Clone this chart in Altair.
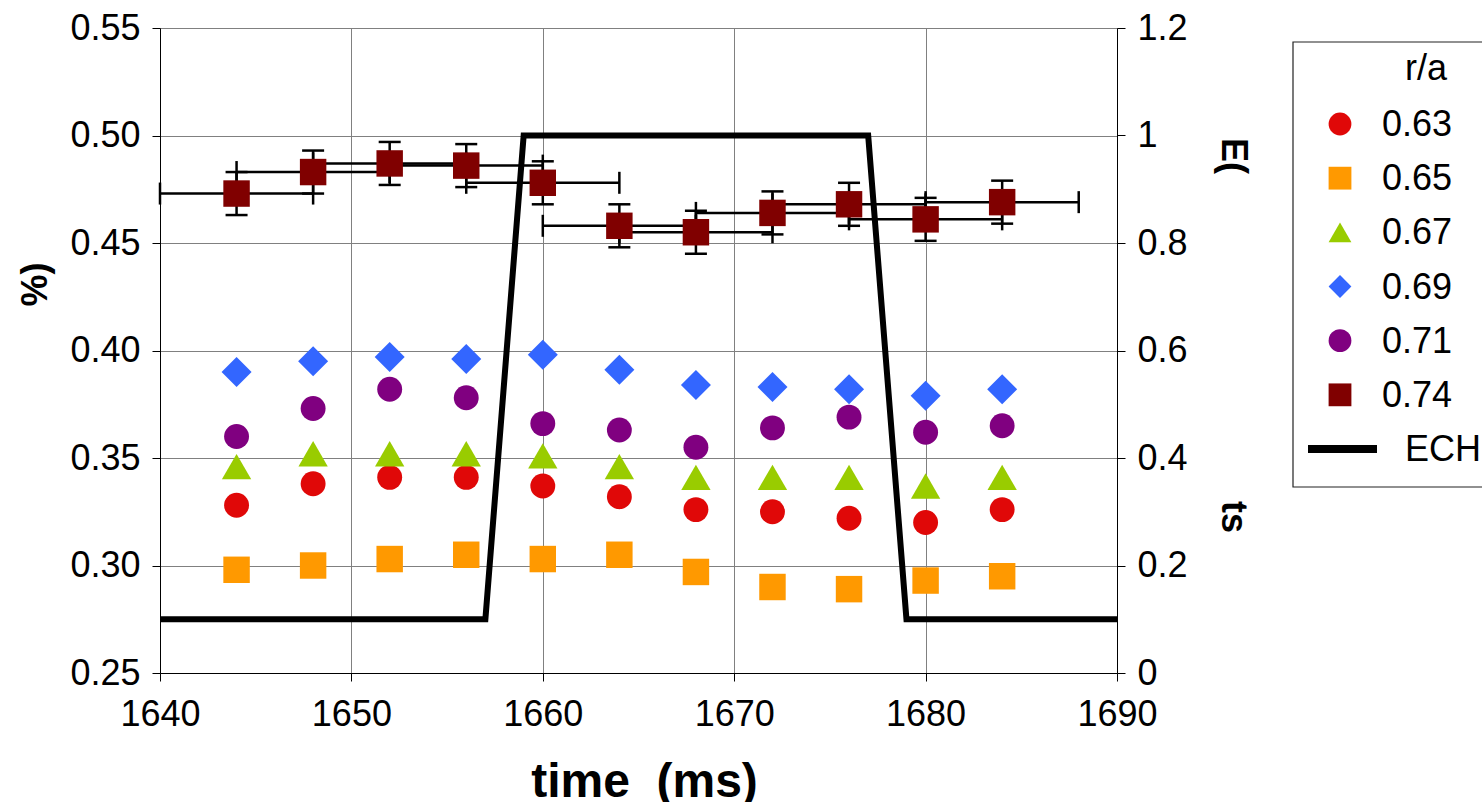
import altair as alt
import pandas as pd

# ---------------- data ----------------
times = [1644, 1648, 1652, 1656, 1660, 1664, 1668, 1672, 1676, 1680, 1684]
series_names = ["0.63", "0.65", "0.67", "0.69", "0.71", "0.74"]
v063 = [0.328, 0.338, 0.341, 0.341, 0.337, 0.332, 0.326, 0.325, 0.322, 0.320, 0.326]
v065 = [0.298, 0.300, 0.303, 0.305, 0.303, 0.305, 0.297, 0.290, 0.289, 0.293, 0.295]
v067 = [0.346, 0.352, 0.352, 0.352, 0.351, 0.346, 0.341, 0.341, 0.341, 0.337, 0.341]
v069 = [0.390, 0.395, 0.397, 0.396, 0.398, 0.391, 0.384, 0.383, 0.382, 0.379, 0.382]
v071 = [0.360, 0.373, 0.382, 0.378, 0.366, 0.363, 0.355, 0.364, 0.369, 0.362, 0.365]
v074 = [0.473, 0.483, 0.487, 0.486, 0.478, 0.458, 0.455, 0.464, 0.468, 0.461, 0.469]
x_err_074 = [4, 4, 4, 4, 4, 4, 4, 4, 4, 4, 4]
y_err_074 = [0.01, 0.01, 0.01, 0.01, 0.01, 0.01, 0.01, 0.01, 0.01, 0.01, 0.01]

ech_time = [1640, 1657, 1659, 1677, 1679, 1690]
ech_value = [0.1, 0.1, 1.0, 1.0, 0.1, 0.1]

x_ticks = [1640, 1650, 1660, 1670, 1680, 1690]
left_ticks = [0.25, 0.30, 0.35, 0.40, 0.45, 0.50, 0.55]
right_ticks = [0, 0.2, 0.4, 0.6, 0.8, 1, 1.2]

legend_title = "r/a"
ech_label = "ECH"
x_title = "time\u00a0 (ms)"
left_title = "%)"
right_title_top = "E("
right_title_bottom = "ts"

# ---------------- styles ----------------
colors = ["#E00808", "#FF9900", "#99CC00", "#3366FF", "#800080", "#800000"]
shapes = ["circle", "square", "triangle-up", "diamond", "circle", "square"]
sizes = [620, 700, 860, 900, 620, 700]
FONT = "Liberation Sans"

W, H = 957, 645
PAD_L, PAD_T = 160, 28

all_vals = [v063, v065, v067, v069, v071, v074]
pts = pd.DataFrame(
    [{"series": s, "time": t, "value": v}
     for s, vals in zip(series_names, all_vals) for t, v in zip(times, vals)]
)

eb = pd.DataFrame({"time": times, "value": v074, "xerr": x_err_074, "yerr": y_err_074})
eb["x_lo"] = eb["time"] - eb["xerr"]
eb["x_hi"] = eb["time"] + eb["xerr"]
eb["y_lo"] = eb["value"] - eb["yerr"]
eb["y_hi"] = eb["value"] + eb["yerr"]

ech = pd.DataFrame({"time": ech_time, "ech": ech_value})

x_scale = alt.Scale(domain=[1640, 1690], nice=False, zero=False)
yl_scale = alt.Scale(domain=[0.25, 0.55], nice=False, zero=False)
yr_scale = alt.Scale(domain=[0, 1.2], nice=False, zero=True)

x_axis = alt.Axis(
    values=x_ticks, format="d", labelFont=FONT, labelFontSize=36, labelColor="black",
    labelPadding=16, labelFlush=False, labelOverlap=False,
    tickSize=8, tickColor="black", tickWidth=1, domainColor="black", domainWidth=1,
    grid=True, gridColor="#808080", gridWidth=1,
    title=x_title, titleFont=FONT, titleFontSize=48, titleFontWeight="bold",
    titleColor="black", titleX=484, titleY=123, titleAlign="center",
    titleBaseline="alphabetic",
)
yl_axis = alt.Axis(
    values=left_ticks, format=".2f", labelFont=FONT, labelFontSize=36, labelColor="black",
    labelPadding=12, labelFlush=False, labelOverlap=False,
    tickSize=8, tickColor="black", tickWidth=1, domainColor="black", domainWidth=1,
    grid=True, gridColor="#808080", gridWidth=1,
    title=left_title, titleFont=FONT, titleFontSize=36, titleFontWeight="bold",
    titleColor="black", titleAngle=270, titleX=-125, titleY=256, titleAlign="center",
    titleBaseline="middle",
)
yr_axis = alt.Axis(
    orient="right", values=right_ticks, format="~g", labelFont=FONT, labelFontSize=36,
    labelColor="black", labelPadding=12, labelFlush=False, labelOverlap=False,
    tickSize=8, tickColor="black", tickWidth=1, domainColor="black", domainWidth=1,
    grid=False, title="",
)

X = lambda f: alt.X(f, type="quantitative", scale=x_scale, axis=x_axis)
YL = lambda f: alt.Y(f, type="quantitative", scale=yl_scale, axis=yl_axis)

# ---------------- error bars (0.74) ----------------
ebase = alt.Chart(eb)
v_rule = ebase.mark_rule(color="black", strokeWidth=2.5).encode(
    x=X("time"), y=YL("y_lo"), y2="y_hi")
h_rule = ebase.mark_rule(color="black", strokeWidth=2.5).encode(
    x=X("x_lo"), x2="x_hi", y=YL("value"))
cap_lo = ebase.mark_tick(color="black", orient="horizontal", size=22, thickness=2.5,
                         opacity=1).encode(x=X("time"), y=YL("y_lo"))
cap_hi = ebase.mark_tick(color="black", orient="horizontal", size=22, thickness=2.5,
                         opacity=1).encode(x=X("time"), y=YL("y_hi"))
cap_l = ebase.mark_tick(color="black", orient="vertical", size=22, thickness=2.5,
                        opacity=1).encode(x=X("x_lo"), y=YL("value"))
cap_r = ebase.mark_tick(color="black", orient="vertical", size=22, thickness=2.5,
                        opacity=1).encode(x=X("x_hi"), y=YL("value"))

point_layers = []
for s, c, sh, sz in zip(series_names, colors, shapes, sizes):
    point_layers.append(
        alt.Chart(pts).transform_filter(alt.datum.series == s)
        .mark_point(filled=True, shape=sh, size=sz, color=c, opacity=1, strokeWidth=0)
        .encode(x=X("time"), y=YL("value"))
    )

left_group = alt.layer(v_rule, h_rule, cap_lo, cap_hi, cap_l, cap_r, *point_layers)

ech_line = alt.Chart(ech).mark_line(color="black", strokeWidth=6, strokeJoin="miter",
                                    strokeCap="butt").encode(
    x=X("time"),
    y=alt.Y("ech:Q", scale=yr_scale, axis=yr_axis),
)

# ---------------- legend ----------------
leg_df = pd.DataFrame({"series": series_names, "row": list(range(len(series_names)))})
ech_leg_df = pd.DataFrame({"label": [ech_label], "row": [len(series_names)]})
leg_y = alt.Scale(domain=[0, 6], range=[124 - PAD_T, 449 - PAD_T], nice=False, zero=False)

box = alt.Chart(pd.DataFrame({"k": [0]})).mark_rect(
    fill="white", stroke="#222222", strokeWidth=1.2).encode(
    x=alt.value(1293 - PAD_L), x2=alt.value(1500 - PAD_L),
    y=alt.value(42 - PAD_T), y2=alt.value(487 - PAD_T))

leg_sym = alt.Chart(leg_df).mark_point(filled=True, size=520, opacity=1, strokeWidth=0).encode(
    x=alt.value(1340 - PAD_L),
    y=alt.Y("row:Q", scale=leg_y, axis=None),
    color=alt.Color("series:N", scale=alt.Scale(domain=series_names, range=colors), legend=None),
    shape=alt.Shape("series:N", scale=alt.Scale(domain=series_names, range=shapes), legend=None),
)
leg_lbl = alt.Chart(leg_df).mark_text(
    font=FONT, fontSize=36, color="black", align="left", baseline="alphabetic", dy=12).encode(
    x=alt.value(1382 - PAD_L), y=alt.Y("row:Q", scale=leg_y, axis=None), text="series:N")
ech_sym = alt.Chart(ech_leg_df).mark_rule(color="black", strokeWidth=8).encode(
    x=alt.value(1308 - PAD_L), x2=alt.value(1377 - PAD_L),
    y=alt.Y("row:Q", scale=leg_y, axis=None))
ech_lbl = alt.Chart(ech_leg_df).mark_text(
    font=FONT, fontSize=36, color="black", align="left", baseline="alphabetic", dy=12).encode(
    x=alt.value(1405 - PAD_L), y=alt.Y("row:Q", scale=leg_y, axis=None), text="label:N")
leg_title = alt.Chart(pd.DataFrame({"t": [legend_title]})).mark_text(
    font=FONT, fontSize=36, color="black", align="left", baseline="alphabetic").encode(
    x=alt.value(1405 - PAD_L), y=alt.value(80 - PAD_T), text="t:N")

rt_top = alt.Chart(pd.DataFrame({"t": [right_title_top]})).mark_text(
    font=FONT, fontSize=36, fontWeight="bold", color="black", angle=90,
    align="center", baseline="middle").encode(
    x=alt.value(1233 - PAD_L), y=alt.value(156 - PAD_T), text="t:N")
rt_bot = alt.Chart(pd.DataFrame({"t": [right_title_bottom]})).mark_text(
    font=FONT, fontSize=36, fontWeight="bold", color="black", angle=90,
    align="center", baseline="middle").encode(
    x=alt.value(1233 - PAD_L), y=alt.value(517 - PAD_T), text="t:N")

legend_group = alt.layer(box, ech_sym, leg_sym, leg_lbl, ech_lbl, leg_title, rt_top, rt_bot)

chart = (
    alt.layer(left_group, ech_line, legend_group)
    .resolve_scale(y="independent")
    .properties(
        width=W, height=H,
        autosize=alt.AutoSizeParams(type="none"),
        padding={"left": PAD_L, "top": PAD_T, "right": 1482 - PAD_L - W, "bottom": 802 - PAD_T - H},
        background="white",
    )
    .configure_view(stroke="transparent")
)

chart.save("out.html", embed_options={"renderer": "svg", "actions": False})
